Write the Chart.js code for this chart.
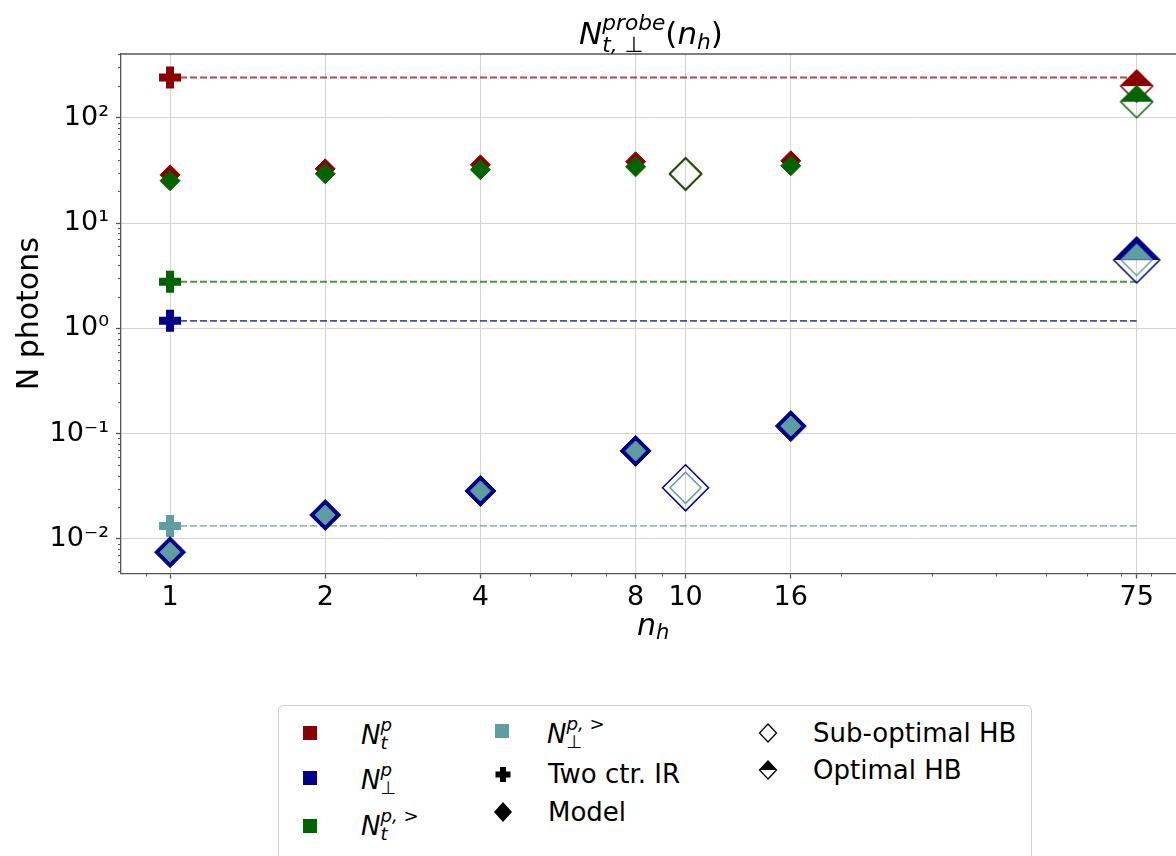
<!DOCTYPE html>
<html>
<head>
<meta charset="utf-8">
<script src="https://cdn.jsdelivr.net/npm/chart.js@4.4.0/dist/chart.umd.min.js"></script>
<style>
html, body { margin: 0; padding: 0; background: #fff; }
#wrap { position: relative; width: 1176px; height: 856px; overflow: hidden;
        font-family: "DejaVu Sans", sans-serif; color: #000; }
#c { position: absolute; left: 0; top: 0; }
.abs { position: absolute; white-space: nowrap; line-height: 1; }
.i { font-style: italic; }
.ss { display: inline-flex; flex-direction: column; vertical-align: middle;
      font-size: 0.7em; line-height: 1; position: relative; top: -2px; }
.sb { font-size: 0.7em; position: relative; top: 0.2em; }
#legendBox { position: absolute; left: 278px; top: 705px; width: 752px; height: 200px;
             border: 1px solid #d0d0d0; border-radius: 5px; background: #fff; }
.leg { font-size: 26px; }
</style>
</head>
<body>
<div id="wrap">
  <canvas id="c" width="1176" height="856"></canvas>

  <!-- title -->
  <div class="abs" style="left:579px; top:14px; font-size:31px;">
    <span class="i">N</span><span class="ss"><span class="i">probe</span><span><span class="i">t,</span> ⊥</span></span>(<span class="i">n</span><span class="sb i">h</span>)
  </div>

  <!-- x axis label -->
  <div class="abs i" style="left:637px; top:610px; font-size:30px;">n<span class="sb">h</span></div>

  <!-- legend -->
  <div id="legendBox"></div>
  <svg class="abs" width="1176" height="856" style="left:0; top:0;">
    <rect x="303" y="726" width="14" height="14" fill="#8b0000"/>
    <rect x="303" y="771" width="14" height="14" fill="#00008b"/>
    <rect x="303" y="819" width="14" height="14" fill="#006400"/>
    <rect x="495" y="724" width="14" height="14" fill="#5f9ea0"/>
    <path d="M500 767 h6 v4.5 h4.5 v6 h-4.5 v4.5 h-6 v-4.5 h-4.5 v-6 h4.5 z" fill="#000"/>
    <path d="M503 802 l9 10 l-9 10 l-9 -10 z" fill="#000"/>
    <path d="M768 724 l8.5 9 l-8.5 9 l-8.5 -9 z" fill="none" stroke="#000" stroke-width="1.3"/>
    <path d="M768 761 l8.5 9 h-17 z" fill="#000"/>
    <path d="M768 761 l8.5 9 l-8.5 9 l-8.5 -9 z" fill="none" stroke="#000" stroke-width="1.3"/>
  </svg>
  <div class="abs leg" style="left:361px; top:718px;"><span class="i">N</span><span class="ss"><span class="i">p</span><span class="i">t</span></span></div>
  <div class="abs leg" style="left:361px; top:763px;"><span class="i">N</span><span class="ss"><span class="i">p</span><span>⊥</span></span></div>
  <div class="abs leg" style="left:361px; top:809px;"><span class="i">N</span><span class="ss"><span><span class="i">p,</span> &gt;</span><span class="i">t</span></span></div>
  <div class="abs leg" style="left:547px; top:717px;"><span class="i">N</span><span class="ss"><span><span class="i">p,</span> &gt;</span><span>⊥</span></span></div>
  <div class="abs leg" style="left:548px; top:761px;">Two ctr. IR</div>
  <div class="abs leg" style="left:548px; top:799px;">Model</div>
  <div class="abs leg" style="left:813px; top:720px;">Sub-optimal HB</div>
  <div class="abs leg" style="left:813px; top:757px;">Optimal HB</div>
</div>

<script>
/*
  N photons vs n_h  (log / log)
  series order everywhere: N_t^p, N_perp^p, N_t^{p,>}, N_perp^{p,>}
*/

const seriesColors = ["#8b0000", "#00008b", "#006400", "#5f9ea0"];
const dashColors = ["rgba(139,0,0,0.7)", "rgba(0,0,139,0.7)", "rgba(0,100,0,0.7)", "rgba(95,158,160,0.7)"];

// model (filled diamonds)
const nhModel = [1, 2, 4, 8, 16];
const modelNtP = [28.7, 32.7, 35.7, 38.2, 39.0];
const modelNperpP = [0.0075, 0.0169, 0.0286, 0.0686, 0.118];
const modelNtPGt = [25.2, 29.4, 32.1, 34.2, 35.0];
const modelNperpPGt = [0.0075, 0.0169, 0.0286, 0.0686, 0.118];

// two centre IR (plus at n_h = 1, dashed level out to n_h = 75)
const nhTwoCtr = [1, 75];
const twoCtrValues = [241, 1.18, 2.77, 0.0133];

// sub-optimal HB (hollow diamonds)
const nhSubOpt = 10;
const subOptValues = [29.5, 0.0306, 29.0, 0.0306];

// optimal HB (half filled diamonds)
const nhOpt = 75;
const optValues = [200, 4.46, 142, 4.46];

// axes
const xTicks = [1, 2, 4, 8, 10, 16, 75];
const xTickLabels = ["1", "2", "4", "8", "10", "16", "75"];
const xMinor = [0.9, 3, 5, 6, 7, 9, 20, 30, 40, 50, 60, 70, 80];
const yTicks = [0.01, 0.1, 1, 10, 100];
const yTickLabels = ["10⁻²", "10⁻¹", "10⁰", "10¹", "10²"];
const yMinor = [0.005, 0.006, 0.007, 0.008, 0.009,
                0.02, 0.03, 0.04, 0.05, 0.06, 0.07, 0.08, 0.09,
                0.2, 0.3, 0.4, 0.5, 0.6, 0.7, 0.8, 0.9,
                2, 3, 4, 5, 6, 7, 8, 9,
                20, 30, 40, 50, 60, 70, 80, 90,
                200, 300, 400];

const AXIS_COLOR = "#555";
const GRID_COLOR = "#d4d4d4";

/* ---------- marker helpers ---------- */

function halfDiamond(r, color, lw) {
    const s = Math.ceil(2 * r + lw + 2);
    const cv = document.createElement("canvas");
    cv.width = s;
    cv.height = s;
    const g = cv.getContext("2d");
    const c = s / 2;
    g.fillStyle = color;
    g.beginPath();
    g.moveTo(c - r, c);
    g.lineTo(c, c - r);
    g.lineTo(c + r, c);
    g.closePath();
    g.fill();
    g.strokeStyle = color;
    g.lineWidth = lw;
    g.beginPath();
    g.moveTo(c - r, c);
    g.lineTo(c, c - r);
    g.lineTo(c + r, c);
    g.lineTo(c, c + r);
    g.closePath();
    g.stroke();
    return cv;
}

function pts(xs, ys) {
    return xs.map((x, i) => ({ x: x, y: ys[i] }));
}

/* ---------- datasets ---------- */

const datasets = [];

// dashed levels
twoCtrValues.forEach((v, i) => {
    datasets.push({
        data: pts(nhTwoCtr, [v, v]),
        showLine: true,
        borderColor: dashColors[i],
        borderWidth: 1.8,
        borderDash: [7, 3],
        pointRadius: 0,
        order: 20
    });
});

// plus markers at n_h = 1
datasets.push({
    data: twoCtrValues.map(v => ({ x: nhTwoCtr[0], y: v })),
    pointStyle: "cross",
    pointRadius: 11,
    borderWidth: 8,
    borderColor: seriesColors,
    backgroundColor: seriesColors,
    order: 19
});

// model diamonds
const modelSeries = [modelNtP, modelNperpP, modelNtPGt, modelNperpPGt];
const modelRadius = [10, 15.5, 10, 10];
const modelOrder = [18, 16, 17, 15];
modelSeries.forEach((vals, i) => {
    datasets.push({
        data: pts(nhModel, vals),
        pointStyle: "rectRot",
        pointRadius: modelRadius[i],
        borderWidth: 1,
        borderColor: seriesColors[i],
        backgroundColor: seriesColors[i],
        order: modelOrder[i]
    });
});

// sub-optimal hollow diamonds
const hbRadius = [16, 23, 16, 15.5];
subOptValues.forEach((v, i) => {
    datasets.push({
        data: [{ x: nhSubOpt, y: v }],
        pointStyle: "rectRot",
        pointRadius: hbRadius[i],
        borderWidth: 1.5,
        borderColor: seriesColors[i],
        backgroundColor: "rgba(0,0,0,0)",
        order: 14 - i
    });
});

// optimal half-filled diamonds
optValues.forEach((v, i) => {
    datasets.push({
        data: [{ x: nhOpt, y: v }],
        pointStyle: halfDiamond(hbRadius[i], seriesColors[i], 1.5),
        pointRadius: hbRadius[i],
        order: 10 - i
    });
});

/* ---------- frame + minor ticks ---------- */

const frameAndMinor = {
    id: "frameAndMinor",
    afterDraw(chart) {
        const { ctx, chartArea: a, scales: { x, y } } = chart;
        ctx.save();
        ctx.strokeStyle = AXIS_COLOR;
        ctx.lineWidth = 1.3;
        ctx.beginPath();
        ctx.moveTo(a.left, a.top);
        ctx.lineTo(a.right, a.top);
        ctx.stroke();
        ctx.lineWidth = 1;
        ctx.beginPath();
        xMinor.forEach(v => {
            const px = Math.round(x.getPixelForValue(v)) + 0.5;
            ctx.moveTo(px, a.bottom);
            ctx.lineTo(px, a.bottom + 3);
        });
        yMinor.forEach(v => {
            const py = Math.round(y.getPixelForValue(v)) + 0.5;
            if (py < a.top || py > a.bottom) return;
            ctx.moveTo(a.left, py);
            ctx.lineTo(a.left - 3, py);
        });
        ctx.stroke();
        ctx.restore();
    }
};

/* ---------- chart ---------- */

const tickFont = { family: "DejaVu Sans", size: 27 };

new Chart(document.getElementById("c").getContext("2d"), {
    type: "scatter",
    data: { datasets: datasets },
    options: {
        responsive: false,
        animation: false,
        events: [],
        layout: { autoPadding: false, padding: { left: 0, right: 0, top: 54, bottom: 0 } },
        plugins: { legend: { display: false }, tooltip: { enabled: false } },
        scales: {
            x: {
                type: "logarithmic",
                min: 0.8033,
                max: 89.4,
                afterBuildTicks: s => { s.ticks = xTicks.map(v => ({ value: v })); },
                afterFit: s => { s.height = 282.5; },
                ticks: {
                    autoSkip: false,
                    maxRotation: 0,
                    padding: 3,
                    color: "#000",
                    font: tickFont,
                    callback: (v, i) => xTickLabels[i]
                },
                grid: { color: GRID_COLOR, lineWidth: 1, tickColor: AXIS_COLOR, tickLength: 5, tickWidth: 1.3 },
                border: { display: true, color: AXIS_COLOR, width: 1.3 }
            },
            y: {
                type: "logarithmic",
                min: 0.0047,
                max: 403,
                afterBuildTicks: s => { s.ticks = yTicks.map(v => ({ value: v })); },
                afterFit: s => { s.width = 121; },
                ticks: {
                    autoSkip: false,
                    padding: 7,
                    color: "#000",
                    font: tickFont,
                    callback: (v, i) => yTickLabels[i]
                },
                grid: { color: GRID_COLOR, lineWidth: 1, tickColor: AXIS_COLOR, tickLength: 5, tickWidth: 1.3 },
                border: { display: true, color: AXIS_COLOR, width: 1.3 },
                title: {
                    display: true,
                    text: "N photons",
                    color: "#000",
                    font: { family: "DejaVu Sans", size: 30 },
                    padding: { top: 12, bottom: 0 }
                }
            }
        }
    },
    plugins: [frameAndMinor]
});
</script>
</body>
</html>
